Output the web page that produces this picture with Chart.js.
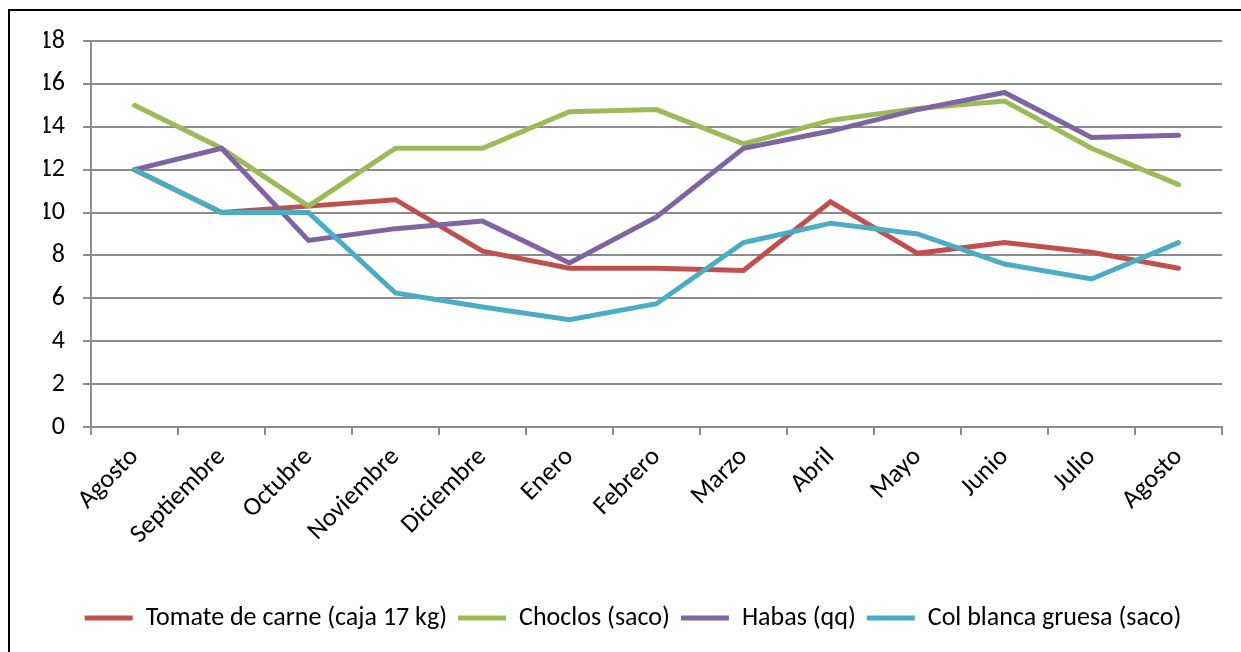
<!DOCTYPE html>
<html>
<head>
<meta charset="utf-8">
<script src="https://cdn.jsdelivr.net/npm/chart.js@4"></script>
<style>
  html, body { margin: 0; padding: 0; background: #fff; }
  #wrap { position: relative; width: 1241px; height: 652px; overflow: hidden; }
  #marco { position: absolute; left: 8px; top: 9px; width: 1300px; height: 700px;
           border-left: 2px solid #000; border-top: 2px solid #000; }
  canvas { position: absolute; left: 0; top: 0; }
</style>
</head>
<body>
<div id="wrap">
  <div id="marco"></div>
  <canvas id="grafico" width="1241" height="652"></canvas>
</div>
<script>
// meses del periodo
const meses = ['Agosto', 'Septiembre', 'Octubre', 'Noviembre', 'Diciembre', 'Enero',
               'Febrero', 'Marzo', 'Abril', 'Mayo', 'Junio', 'Julio', 'Agosto'];

// precios por producto
const tomate = [12, 10, 10.3, 10.6, 8.2, 7.4, 7.4, 7.3, 10.5, 8.1, 8.6, 8.15, 7.4];
const choclos = [15, 13, 10.3, 13, 13, 14.7, 14.8, 13.2, 14.3, 14.85, 15.2, 13, 11.3];
const habas = [12, 13, 8.7, 9.25, 9.6, 7.65, 9.8, 13, 13.8, 14.8, 15.6, 13.5, 13.6];
const col = [12, 10, 10, 6.25, 5.6, 5, 5.75, 8.6, 9.5, 9, 7.6, 6.9, 8.6];

const nombres = ['Tomate de carne (caja 17 kg)', 'Choclos (saco)', 'Habas (qq)', 'Col blanca gruesa (saco)'];
const colores = ['#C0504D', '#9BBB59', '#8064A2', '#4BACC6'];

const fuente = "Carlito, Lato, 'Noto Sans', sans-serif";
const gris = '#8c8c8c';

// la última serie queda encima
function serie(i, datos) {
    return {
        label: nombres[i],
        data: datos,
        borderColor: colores[i],
        backgroundColor: colores[i],
        borderWidth: 5,
        borderCapStyle: 'round',
        pointRadius: 0,
        tension: 0,
        order: 4 - i
    };
}

new Chart(document.getElementById('grafico'), {
    type: 'line',
    data: {
        labels: meses,
        datasets: [serie(0, tomate), serie(1, choclos), serie(2, habas), serie(3, col)]
    },
    options: {
        responsive: false,
        animation: false,
        layout: { padding: { top: 41, right: 19, bottom: 11, left: 44 } },
        plugins: {
            tooltip: { enabled: false },
            legend: {
                position: 'bottom',
                labels: {
                    color: '#000',
                    font: { family: fuente, size: 26 },
                    boxWidth: 48,
                    boxHeight: 5,
                    padding: 11,
                    sort: (a, b) => a.datasetIndex - b.datasetIndex,
                    generateLabels: function(chart) {
                        const items = Chart.defaults.plugins.legend.labels.generateLabels(chart);
                        items.forEach(it => { it.lineWidth = 0; });
                        return items;
                    }
                }
            }
        },
        scales: {
            x: {
                offset: true,
                grid: { offset: true, drawOnChartArea: false, color: gris, lineWidth: 2, tickLength: 8 },
                border: { color: gris, width: 2 },
                ticks: { color: '#000', font: { family: fuente, size: 26 }, minRotation: 45, maxRotation: 45, padding: 7 },
                afterFit: function(scale) { scale.height = 167; }
            },
            y: {
                min: 0,
                max: 18,
                ticks: { stepSize: 2, color: '#000', font: { family: fuente, size: 26 }, padding: 18 },
                grid: { color: gris, lineWidth: 2, tickLength: 8 },
                border: { color: gris, width: 2 },
                afterFit: function(scale) { scale.width = 47; }
            }
        }
    }
});
</script>
</body>
</html>
